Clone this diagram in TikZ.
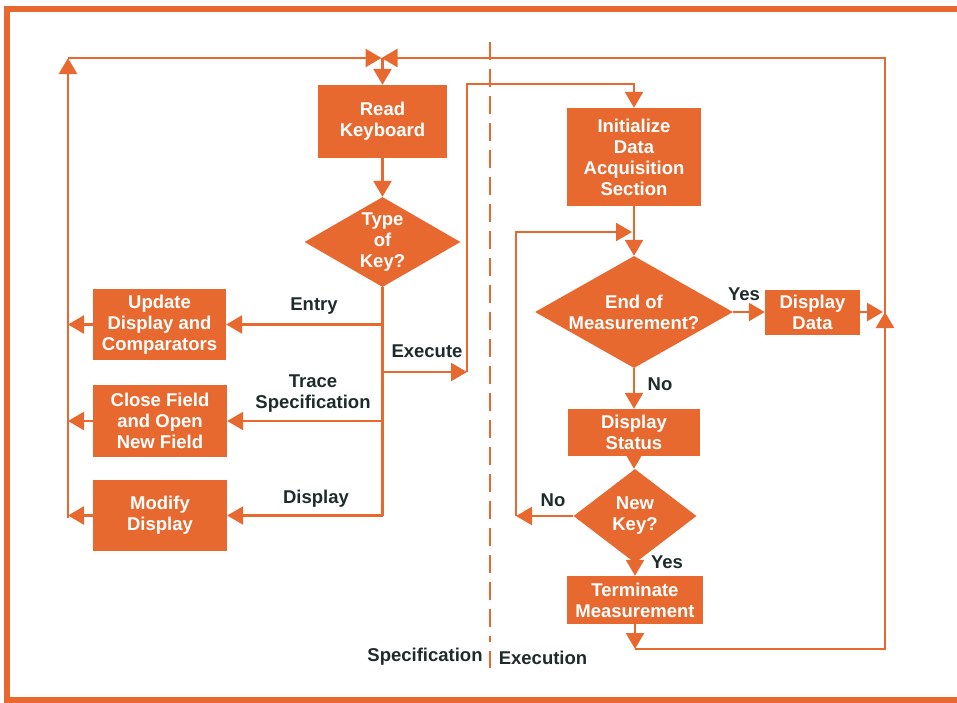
\documentclass[tikz,border=0pt]{standalone}
\usepackage{fontspec}
\setmainfont{Liberation Sans}
\usetikzlibrary{arrows.meta,shapes.geometric}
\definecolor{hporange}{HTML}{E8692F}
\definecolor{ink}{HTML}{1F2B2A}
\begin{document}
\begin{tikzpicture}[x=1pt,y=-1pt,
  boxfont/.style={font=\bfseries\fontsize{18.5}{21}\selectfont},
  box/.style={boxfont, fill=hporange, draw=none, text=white, align=center, inner sep=0pt},
  dia/.style={diamond, fill=hporange, draw=none, inner sep=0pt},
  wtext/.style={boxfont, text=white, align=center, inner sep=0pt},
  lbl/.style={boxfont, text=ink, align=center, inner sep=0pt},
  ln/.style={draw=hporange, line width=2.5pt},
  arr/.style={ln, -{Triangle[length=16pt,width=18pt]}},
]
\useasboundingbox (0,0) rectangle (957,702);
% frame
\draw[hporange, line width=6pt] (957,9) -- (7,9) -- (7,700) -- (957,700);

% separator
\draw[hporange, line width=2.5pt, dash pattern=on 18pt off 9pt] (490,42) -- (490,642);
\draw[hporange, line width=2.5pt] (490,651) -- (490,668);

% nodes: left side
\node[box, minimum width=129pt, minimum height=73pt] (read) at (382.5,121.5) {Read\\Keyboard};
\node[dia, minimum width=156pt, minimum height=90pt] (type) at (382.5,242) {};
\node[wtext] (typet) at (type.center) {Type\\of\\Key?};
\node[box, minimum width=133pt, minimum height=71pt] (upd) at (159.5,324.5) {Update\\Display and\\Comparators};
\node[box, minimum width=134pt, minimum height=72pt] (close) at (160,421) {Close Field\\and Open\\New Field};
\node[box, minimum width=134pt, minimum height=71pt] (mod) at (160,515.5) {Modify\\Display};

% nodes: right side
\node[box, minimum width=134pt, minimum height=98pt] (init) at (634,157) {Initialize\\Data\\Acquisition\\Section};
\node[dia, minimum width=198pt, minimum height=112pt] (end) at (634,312) {};
\node[wtext] (endt) at (end.center) {End of\\Measurement?};
\node[box, minimum width=95pt, minimum height=45pt] (ddata) at (812.5,312) {Display\\Data};
\node[box, minimum width=132pt, minimum height=47pt] (dstat) at (634,432.5) {Display\\Status};
\node[dia, minimum width=123pt, minimum height=94pt] (new) at (635,516) {};
\node[wtext] (newt) at (new.center) {New\\Key?};
\node[box, minimum width=136pt, minimum height=48pt] (term) at (635,600) {Terminate\\Measurement};

% coordinates
\coordinate (J) at (382.5,58);
\coordinate (TL) at (68,58);
\coordinate (TR) at (885,58);
\coordinate (BL) at (68,518);
\coordinate (BR) at (885,649);
\coordinate (upA) at (885,312);
\coordinate (ex) at (467,372);
\coordinate (exTop) at (467,84);
\coordinate (lpL) at (516,516);
\coordinate (lpT) at (516,232);
\coordinate (lpR) at (632,232);
\coordinate (ddR) at (883,312);

% left side connectors
\draw[arr] (BL) -- (TL);
\draw[arr, shorten >=1pt] (TL) -- (J);
\draw[arr, shorten >=-1pt] (upA) -- (TR) -- (J);
\draw[arr] (J) -- (read.north);
\draw[arr] (read.south) -- (type.north);
\draw[ln] (type.south) -- (type.south |- mod.east);
\draw[arr] (type.south |- upd.east) -- (upd.east);
\draw[arr] (type.south |- close.east) -- (close.east);
\draw[arr] (type.south |- mod.east) -- (mod.east);
\draw[arr] (upd.west) -- (upd.west -| BL);
\draw[arr] (close.west) -- (close.west -| BL);
\draw[arr] (mod.west) -- (mod.west -| BL);
\draw[arr] (type.south |- ex) -- (ex);
\draw[arr] (ex) -- (exTop) -| (init.north);

% right side connectors
\draw[arr] (init.south) -- (end.north);
\draw[arr] (new.west) -- (lpL);
\draw[arr] (lpL) -- (lpT) -- (lpR);
\draw[arr] (end.east) -- (ddata.west);
\draw[arr] (ddata.east) -- (ddR);
\draw[arr] (end.south) -- (dstat.north);
\draw[arr] (dstat.south) -- (dstat.south |- new.north);
\draw[arr] (new.south) -- (term.north);
\draw[arr] (term.south) -- (term.south |- BR);
\draw[ln] (term.south |- BR) -- (BR) -- (upA);
\draw[arr] (BR) -- (upA);

% labels
\node[lbl] (lentry) at (314,306) {Entry};
\node[lbl] (ltrace) at (313,394) {Trace\\Specification};
\node[lbl] (ldisp) at (316,499) {Display};
\node[lbl] (lexec) at (427,351) {Execute};
\node[lbl] (lyes1) at (744,294) {Yes};
\node[lbl] (lno1) at (660,384) {No};
\node[lbl] (lno2) at (553,500) {No};
\node[lbl] (lyes2) at (667,562) {Yes};
\node[lbl] (lspec) at (425,657) {Specification};
\node[lbl] (lexe) at (543,658) {Execution};
\end{tikzpicture}
\end{document}
